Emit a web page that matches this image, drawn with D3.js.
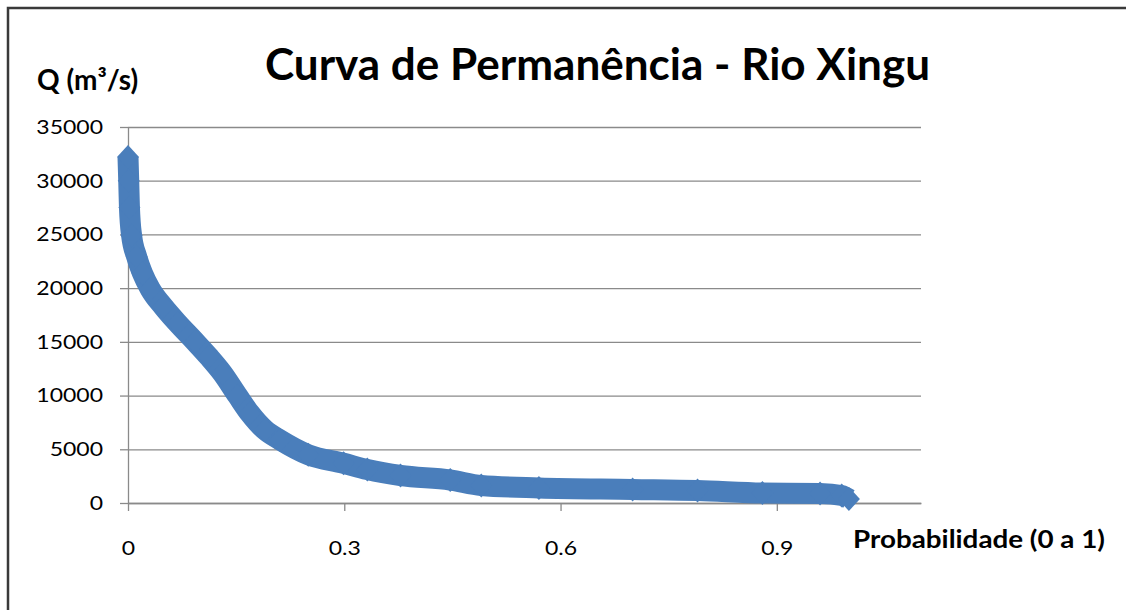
<!DOCTYPE html>
<html>
<head>
<meta charset="utf-8">
<script src="https://cdn.jsdelivr.net/npm/d3@7"></script>
<style>
  body { margin: 0; background: #fff; }
  svg { display: block; }
  text { font-family: Lato, "Open Sans", sans-serif; fill: #000; }
</style>
</head>
<body>
<div id="chart"></div>
<script>
////////////////////////////////////////////////////////////////////////////////
// Data: flow duration curve, Rio Xingu
var probabilidade = [0, 0.001, 0.002, 0.005, 0.012, 0.020, 0.031, 0.049, 0.069,
	0.093, 0.112, 0.131, 0.152, 0.169, 0.190, 0.211, 0.250, 0.299, 0.332, 0.378,
	0.447, 0.490, 0.570, 0.700, 0.790, 0.880, 0.960, 0.990, 1.0];
var vazao = [32200, 30000, 27500, 24900, 22930, 21390, 19900, 18280, 16730,
	15020, 13620, 12080, 9990, 8350, 6800, 5870, 4500, 3700, 3120, 2560,
	2140, 1630, 1400, 1260, 1160, 930, 880, 700, 370];
var xTicks = [0, 0.3, 0.6, 0.9];
var yTicks = [0, 5000, 10000, 15000, 20000, 25000, 30000, 35000];

var W = 1126, H = 610;
var margin = {top: 127, left: 128};
var width = 921 - margin.left,
	height = 503 - margin.top;
var stretch = 1.15;   // the labels in the picture are a bit wider than Lato

var svg = d3.select('#chart').append('svg')
	.attr('width', W)
	.attr('height', H);

// chart border (only top and left edges show in the picture)
svg.append('path')
	.attr('d', 'M8,' + H + 'V8H' + W)
	.attr('fill', 'none')
	.attr('stroke', '#3a3a3a')
	.attr('stroke-width', 2.5);

var g = svg.append('g')
	.attr('transform', 'translate(' + margin.left + ',' + margin.top + ')');

var x = d3.scaleLinear().domain([0, 1.1]).range([0, width]);
var y = d3.scaleLinear().domain([0, 35000]).range([height, 0]);

// gridlines
g.append('g')
	.attr('class', 'grid')
	.call(d3.axisLeft(y).tickValues(yTicks).tickSize(-width).tickFormat(''))
	.call(function(s){ s.select('.domain').remove(); })
	.selectAll('line')
	.attr('stroke', '#8a8a8a')
	.attr('stroke-width', 1.3);

// y axis
var yAxis = g.append('g')
	.call(d3.axisLeft(y).tickValues(yTicks).tickSizeInner(8).tickSizeOuter(0)
		.tickFormat(d3.format('d')));
yAxis.select('.domain').attr('stroke', '#8a8a8a').attr('stroke-width', 1.3);
yAxis.selectAll('line').attr('stroke', '#8a8a8a').attr('stroke-width', 1.3);
yAxis.selectAll('text')
	.attr('x', 0)
	.attr('transform', 'translate(-25,0) scale(' + stretch + ',1)')
	.style('font-size', '20px')
	.attr('fill', '#111');

// x axis
var xAxis = g.append('g')
	.attr('transform', 'translate(0,' + height + ')')
	.call(d3.axisBottom(x).tickValues(xTicks).tickSizeInner(8).tickSizeOuter(0)
		.tickFormat(d3.format('')));
xAxis.select('.domain').attr('stroke', '#8a8a8a').attr('stroke-width', 1.3);
xAxis.selectAll('line').attr('stroke', '#8a8a8a').attr('stroke-width', 1.3);
xAxis.selectAll('text')
	.attr('y', 52)
	.attr('dy', 0)
	.attr('transform', 'scale(' + stretch + ',1)')
	.style('font-size', '20px')
	.attr('fill', '#111');
// keep x labels centred on their ticks after the stretch
xAxis.selectAll('.tick text').attr('transform', null)
	.attr('textLength', function(){ return this.getComputedTextLength() * stretch; })
	.attr('lengthAdjust', 'spacingAndGlyphs');

// series: thick line + diamond markers
var pts = probabilidade.map(function(p, i){ return {p: p, q: vazao[i]}; });
var cor = '#4a7ebb';

g.append('path')
	.datum(pts)
	.attr('fill', 'none')
	.attr('stroke', cor)
	.attr('stroke-width', 21)
	.attr('stroke-linejoin', 'round')
	.attr('d', d3.line()
		.curve(d3.curveMonotoneX)
		.x(function(d){ return x(d.p); })
		.y(function(d){ return y(d.q); }));

g.selectAll('.mark')
	.data(pts)
	.enter()
	.append('path')
	.attr('class', 'mark')
	.attr('fill', cor)
	.attr('transform', function(d){ return 'translate(' + x(d.p) + ',' + y(d.q) + ')'; })
	.attr('d', 'M0,-12L11,0L0,12L-11,0Z');

// titles
svg.append('text')
	.attr('x', 265)
	.attr('y', 80)
	.attr('textLength', 665)
	.attr('lengthAdjust', 'spacingAndGlyphs')
	.style('font-size', '43px')
	.style('font-weight', 'bold')
	.text('Curva de Permanência - Rio Xingu');

svg.append('text')
	.attr('x', 37)
	.attr('y', 90)
	.style('font-size', '28px')
	.style('font-weight', 'bold')
	.text('Q (m³/s)');

svg.append('text')
	.attr('x', 853)
	.attr('y', 548)
	.attr('textLength', 252)
	.attr('lengthAdjust', 'spacingAndGlyphs')
	.style('font-size', '25px')
	.style('font-weight', 'bold')
	.text('Probabilidade (0 a 1)');
</script>
</body>
</html>
